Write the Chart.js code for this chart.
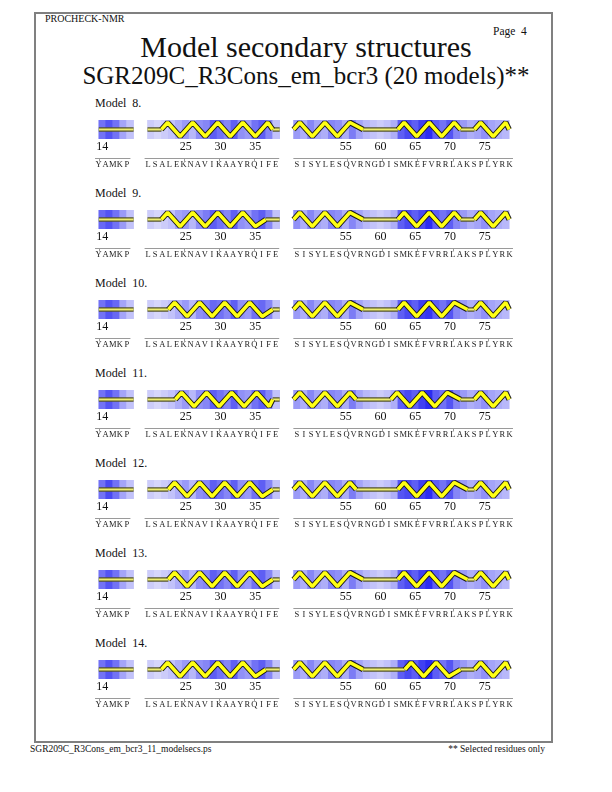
<!DOCTYPE html>
<html>
<head>
<meta charset="utf-8">
<script src="https://cdn.jsdelivr.net/npm/chart.js@4.4.0/dist/chart.umd.min.js"></script>
<style>
body { margin: 0; width: 612px; height: 792px; position: relative; background: #fff; font-family: "Liberation Serif", "DejaVu Serif", serif; overflow: hidden; color: #111; }
.t { position: absolute; white-space: pre; line-height: 1; font-family: "Liberation Serif", "DejaVu Serif", serif; }
#frame { position: absolute; left: 34px; top: 12px; width: 515px; height: 727px; border: 2px solid #808080; }
canvas { position: absolute; }
</style>
</head>
<body>
<div id="frame"></div>
<div class="t" style="left:45px;top:14px;font-size:10px">PROCHECK-NMR</div>
<div class="t" style="left:493px;top:26px;font-size:11.5px">Page  4</div>
<div class="t" style="left:0;width:612px;text-align:center;top:32px;font-size:30px">Model secondary structures</div>
<div class="t" style="left:0;width:612px;text-align:center;top:63px;font-size:25px">SGR209C_R3Cons_em_bcr3 (20 models)**</div>
<div class="t" style="left:30px;top:745px;font-size:9.5px">SGR209C_R3Cons_em_bcr3_11_modelsecs.ps</div>
<div class="t" style="right:67px;top:745px;font-size:9.5px">** Selected residues only</div>
<div id="models"></div>
<script>
const segments = [[14, 18], [20, 38], [48, 78]];
const sequence = ['YAMKP', 'LSALEKNAVIKAAYRQIFE', 'SISYLESQVRNGDISMKEFVRRLAKSPLYRK'];
const labelledResidues = [14, 25, 30, 35, 55, 60, 65, 70, 75];
const modelNumbers = [8, 9, 10, 11, 12, 13, 14];

// secondary structure per residue (H = helix, - = coil), segments joined
const ss8  = '-----' + '--HHHHHHHHHHHHHHHH-' + 'HHHHHHHHHH-----HHHHHHHHH--HHHHH';
const ss9  = '-----' + '--HHHHHHHHHHHHHHH--' + 'HHHHHHHHHH-----HHHHHHHHH--HHHHH';
const ss10 = '-----' + '---HHHHHHHHHHHHHHH-' + 'HHHHHHHHHH-----HHHHHHHHHH-HHHHH';
const ss11 = '-----' + '----HHHHHHHHHHHHHH-' + 'HHHHHHHHH-----HHHHHHHHHH--HHHHH';
const ss12 = '-----' + '---HHHHHHHHHHHHHHH-' + 'HHHHHHHHH------HHHHHHHHHH-HHHHH';
const ss13 = '-----' + '---HHHHHHHHHHHHHHH-' + 'HHHHHHHHHH-----HHHHHHHHHH-HHHHH';
const ss14 = '-----' + '--HHHHHHHHHHHHHHH--' + 'HHHHHHHHHH------HHHHHHHH--HHHHH';

// blue shading per residue (0 = pale, 1 = deep blue)
const shade8 = [0.6, 0.75, 0.6, 0.35, 0.2,
  0.15, 0.1, 0.15, 0.2, 0.3, 0.4, 0.25, 0.45, 0.5, 0.7, 0.6, 0.5, 0.7, 0.45, 0.4, 0.6, 0.7, 0.5, 0.2,
  0.4, 0.3, 0.5, 0.35, 0.3, 0.5, 0.45, 0.3, 0.55, 0.35, 0.25, 0.2, 0.15, 0.2, 0.3, 0.7, 0.8, 0.7, 0.85, 0.95, 0.7, 0.6, 0.75, 0.5, 0.4, 0.3, 0.35, 0.45, 0.35, 0.3, 0.25];
const shade9 = [0.65, 0.75, 0.6, 0.4, 0.2,
  0.15, 0.1, 0.15, 0.2, 0.35, 0.4, 0.25, 0.45, 0.55, 0.7, 0.6, 0.5, 0.7, 0.45, 0.4, 0.6, 0.7, 0.5, 0.2,
  0.45, 0.3, 0.5, 0.35, 0.3, 0.5, 0.45, 0.3, 0.5, 0.35, 0.25, 0.2, 0.15, 0.2, 0.3, 0.7, 0.8, 0.7, 0.8, 0.95, 0.7, 0.6, 0.7, 0.5, 0.4, 0.3, 0.35, 0.45, 0.35, 0.3, 0.25];
const shade10 = [0.6, 0.75, 0.65, 0.35, 0.2,
  0.15, 0.1, 0.15, 0.2, 0.3, 0.4, 0.25, 0.45, 0.5, 0.65, 0.6, 0.5, 0.7, 0.45, 0.4, 0.6, 0.65, 0.5, 0.2,
  0.4, 0.3, 0.5, 0.35, 0.3, 0.5, 0.45, 0.3, 0.55, 0.35, 0.25, 0.2, 0.15, 0.2, 0.3, 0.7, 0.8, 0.7, 0.85, 0.9, 0.7, 0.6, 0.75, 0.5, 0.4, 0.3, 0.35, 0.45, 0.35, 0.3, 0.25];
const shade11 = [0.6, 0.75, 0.6, 0.35, 0.2,
  0.15, 0.1, 0.15, 0.2, 0.3, 0.4, 0.25, 0.45, 0.5, 0.7, 0.6, 0.5, 0.7, 0.45, 0.4, 0.6, 0.7, 0.5, 0.2,
  0.4, 0.3, 0.5, 0.35, 0.3, 0.5, 0.45, 0.3, 0.55, 0.35, 0.25, 0.2, 0.15, 0.2, 0.3, 0.7, 0.8, 0.7, 0.85, 0.95, 0.7, 0.6, 0.75, 0.5, 0.4, 0.3, 0.35, 0.45, 0.35, 0.3, 0.25];
const shade12 = [0.6, 0.8, 0.6, 0.35, 0.2,
  0.15, 0.1, 0.15, 0.2, 0.3, 0.4, 0.25, 0.45, 0.5, 0.7, 0.6, 0.5, 0.7, 0.45, 0.4, 0.6, 0.7, 0.5, 0.2,
  0.4, 0.3, 0.5, 0.35, 0.3, 0.5, 0.45, 0.3, 0.55, 0.35, 0.25, 0.2, 0.15, 0.2, 0.3, 0.75, 0.8, 0.7, 0.85, 0.95, 0.7, 0.6, 0.75, 0.5, 0.4, 0.3, 0.35, 0.45, 0.35, 0.3, 0.25];
const shade13 = [0.6, 0.75, 0.6, 0.35, 0.2,
  0.15, 0.1, 0.15, 0.2, 0.3, 0.4, 0.25, 0.45, 0.5, 0.7, 0.6, 0.5, 0.7, 0.45, 0.4, 0.6, 0.7, 0.5, 0.2,
  0.4, 0.3, 0.5, 0.35, 0.3, 0.5, 0.45, 0.3, 0.55, 0.35, 0.25, 0.2, 0.15, 0.2, 0.3, 0.7, 0.8, 0.7, 0.85, 0.95, 0.7, 0.6, 0.75, 0.5, 0.4, 0.3, 0.35, 0.45, 0.35, 0.3, 0.25];
const shade14 = [0.6, 0.75, 0.6, 0.35, 0.2,
  0.15, 0.1, 0.15, 0.2, 0.3, 0.4, 0.25, 0.45, 0.5, 0.7, 0.6, 0.5, 0.7, 0.45, 0.4, 0.6, 0.7, 0.5, 0.2,
  0.4, 0.3, 0.5, 0.35, 0.3, 0.5, 0.45, 0.3, 0.55, 0.35, 0.25, 0.2, 0.15, 0.2, 0.3, 0.7, 0.8, 0.7, 0.85, 0.95, 0.7, 0.6, 0.75, 0.5, 0.4, 0.3, 0.35, 0.45, 0.35, 0.3, 0.25];

const ssList = [ss8, ss9, ss10, ss11, ss12, ss13, ss14];
const shadeList = [shade8, shade9, shade10, shade11, shade12, shade13, shade14];

const GAP = 2;          // empty cells between segments
const HELIX_TURN = 3.6; // residues per helix turn

// lay residues out on cell positions
const residues = [];
let cell = 0;
segments.forEach(([a, b], si) => {
    for (let r = a; r <= b; r++) {
        residues.push({ res: r, slot: cell++, letter: sequence[si][r - a], seg: si });
    }
    cell += GAP;
});
const lastSlot = cell - GAP - 1;

function shadeColor(v) {
    const lo = [234, 234, 252], hi = [34, 34, 240];
    const c = lo.map((l, i) => Math.round(l + (hi[i] - l) * v));
    return `rgb(${c[0]},${c[1]},${c[2]})`;
}

function runs(ss) {
    const out = [];
    residues.forEach((r, i) => {
        const prev = out[out.length - 1];
        if (prev && prev.type === ss[i] && prev.seg === r.seg) prev.end = r.slot;
        else out.push({ type: ss[i], seg: r.seg, start: r.slot, end: r.slot });
    });
    return out;
}

function helixPoints(xs, xe) {
    const pts = [{ x: xs, y: 0.5 }];
    let up = true;
    for (let x = xs + HELIX_TURN / 4; x < xe - 0.3; x += HELIX_TURN / 2) {
        pts.push({ x: x, y: up ? 0.87 : 0.13 });
        up = !up;
    }
    pts.push({ x: xe, y: 0.5 });
    return pts;
}

const seqLine = {
    id: 'seqLine',
    afterDraw(chart) {
        const s = chart.scales.seq;
        const ctx = chart.ctx;
        const y = Math.round(s.top + 2) + 0.5;
        ctx.save();
        ctx.strokeStyle = '#9a9a9a';
        ctx.lineWidth = 1;
        segments.forEach((seg, si) => {
            const cells = residues.filter(r => r.seg === si);
            ctx.beginPath();
            ctx.moveTo(s.getPixelForValue(cells[0].slot - 0.5), y);
            ctx.lineTo(s.getPixelForValue(cells[cells.length - 1].slot + 0.5), y);
            ctx.stroke();
        });
        residues.filter(r => labelledResidues.includes(r.res)).forEach(r => {
            const x = Math.round(s.getPixelForValue(r.slot)) + 0.5;
            ctx.beginPath();
            ctx.moveTo(x, y);
            ctx.lineTo(x, y + 3);
            ctx.stroke();
        });
        ctx.restore();
    }
};

const holder = document.getElementById('models');
const STRIP_TOP = 120, STEP = 90, STRIP_H = 19;

modelNumbers.forEach((num, mi) => {
    const top = STRIP_TOP + STEP * mi;
    const label = document.createElement('div');
    label.className = 't';
    label.style.left = '95px';
    label.style.top = (top - 23) + 'px';
    label.style.fontSize = '12px';
    label.textContent = 'Model  ' + num + '.';
    holder.appendChild(label);

    const canvas = document.createElement('canvas');
    canvas.width = 458;
    canvas.height = 4 + STRIP_H + 17 + 13;
    canvas.style.left = '75px';
    canvas.style.top = (top - 4) + 'px';
    canvas.style.width = canvas.width + 'px';
    canvas.style.height = canvas.height + 'px';
    holder.appendChild(canvas);

    const ss = ssList[mi];
    const shade = shadeList[mi];
    const datasets = [{
        type: 'bar',
        data: residues.map(r => ({ x: r.slot, y: [0, 1] })),
        backgroundColor: residues.map((r, i) => shadeColor(shade[i])),
        borderWidth: 0,
        barPercentage: 1,
        categoryPercentage: 1,
        order: 10
    }];
    runs(ss).forEach(run => {
        const xs = run.start - 0.5, xe = run.end + 0.5;
        const helix = run.type === 'H';
        const pts = helix ? helixPoints(xs, xe) : [{ x: xs, y: 0.5 }, { x: xe, y: 0.5 }];
        datasets.push({
            type: 'line', data: pts, borderColor: helix ? '#1a1a1a' : '#55552a',
            borderWidth: helix ? 5.5 : 4.5, pointRadius: 0, tension: 0,
            borderJoinStyle: 'bevel', borderCapStyle: 'butt', order: helix ? 2 : 4
        });
        datasets.push({
            type: 'line', data: pts, borderColor: helix ? '#ffff14' : '#eeee70',
            borderWidth: helix ? 3.5 : 2, pointRadius: 0, tension: 0,
            borderJoinStyle: 'bevel', borderCapStyle: 'butt', order: helix ? 1 : 3
        });
    });

    const slotTicks = () => residues.map(r => ({ value: r.slot }));
    new Chart(canvas.getContext('2d'), {
        data: { datasets: datasets },
        options: {
            responsive: false,
            animation: false,
            events: [],
            layout: { padding: { top: 4, left: 20, right: 20, bottom: 0 } },
            plugins: { legend: { display: false }, tooltip: { enabled: false } },
            scales: {
                x: {
                    type: 'linear', position: 'bottom', weight: 0,
                    min: -0.5, max: lastSlot + 0.5,
                    grid: { display: false, drawTicks: false }, border: { display: false },
                    afterBuildTicks: s => { s.ticks = slotTicks(); },
                    afterFit: s => { s.height = 17; },
                    ticks: {
                        autoSkip: false, maxRotation: 0, padding: 1, color: '#111',
                        font: { family: 'Liberation Serif', size: 12 },
                        callback: v => {
                            const r = residues.find(q => q.slot === v);
                            return r && labelledResidues.includes(r.res) ? String(r.res) : '';
                        }
                    }
                },
                seq: {
                    type: 'linear', position: 'bottom', weight: 1,
                    min: -0.5, max: lastSlot + 0.5,
                    grid: { display: false, drawTicks: false }, border: { display: false },
                    afterBuildTicks: s => { s.ticks = slotTicks(); },
                    afterFit: s => { s.height = 13; },
                    ticks: {
                        autoSkip: false, maxRotation: 0, padding: 4, color: '#222',
                        font: { family: 'Liberation Serif', size: 8.5 },
                        callback: v => {
                            const r = residues.find(q => q.slot === v);
                            return r ? r.letter : '';
                        }
                    }
                },
                y: { display: false, min: 0, max: 1 }
            }
        },
        plugins: [seqLine]
    });
});
</script>
</body>
</html>
